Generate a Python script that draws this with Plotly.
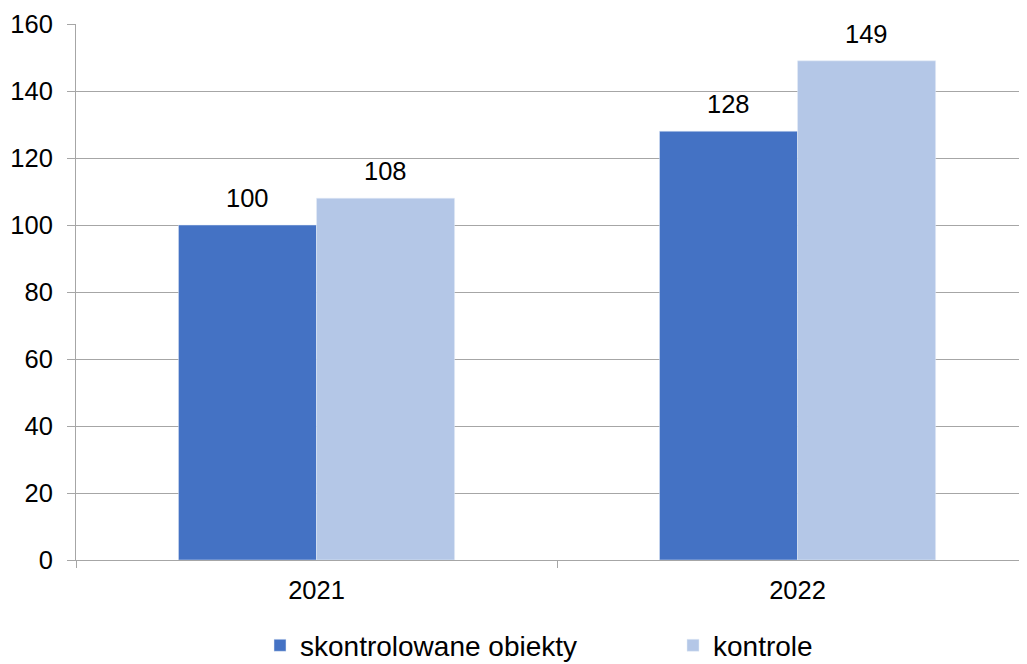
import plotly.graph_objects as go

years = ["2021", "2022"]
obiekty = [100, 128]
kontrole = [108, 149]
series_names = ["skontrolowane obiekty", "kontrole"]
y_ticks = [0, 20, 40, 60, 80, 100, 120, 140, 160]

BLUE = "#4472C4"
LIGHT = "#B4C7E7"
GRID = "#A6A6A6"
FONT = "Liberation Sans, Arial, sans-serif"
TICK_SIZE = 25.5
LEG_SIZE = 28

fig = go.Figure()
fig.add_trace(go.Bar(x=years, y=obiekty, name=series_names[0], marker_color=BLUE,
                     legend="legend", showlegend=True))
fig.add_trace(go.Bar(x=years, y=kontrole, name=series_names[1], marker_color=LIGHT,
                     legend="legend2", showlegend=True))

bargap = 0.426
half = (1 - bargap) / 4
annotations = []
for i, (a, b) in enumerate(zip(obiekty, kontrole)):
    for off, v in ((-half, a), (half, b)):
        annotations.append(dict(x=i + off, y=v, xref="x", yref="y", text=str(v),
                                showarrow=False, yanchor="bottom", yshift=11,
                                font=dict(size=TICK_SIZE, color="black", family=FONT)))

leg_common = dict(orientation="h", yanchor="top", y=-0.113, itemclick=False,
                  visible=True, bgcolor="rgba(0,0,0,0)",
                  font=dict(size=LEG_SIZE, family=FONT, color="black"))

fig.update_layout(
    width=1019, height=656,
    margin=dict(l=68, r=0, t=16, b=104, autoexpand=False),
    paper_bgcolor="white", plot_bgcolor="white",
    showlegend=True,
    barmode="group", bargap=bargap, bargroupgap=0,
    font=dict(family=FONT, size=TICK_SIZE, color="black"),
    annotations=annotations,
    legend=dict(x=(260 - 76) / 951, xanchor="left", **leg_common),
    legend2=dict(x=(673 - 76) / 951, xanchor="left", **leg_common),
    xaxis=dict(type="category", range=[-0.5, 1.477], tickson="boundaries",
               ticks="outside", ticklen=7, tickcolor=GRID, tickwidth=1,
               showline=True, linecolor=GRID, linewidth=1, showgrid=False,
               tickfont=dict(size=TICK_SIZE), ticklabelstandoff=7),
    yaxis=dict(range=[0, 160], tickvals=y_ticks, ticks="outside", ticklen=8,
               tickcolor=GRID, showline=True, linecolor=GRID, linewidth=1,
               showgrid=True, gridcolor=GRID, gridwidth=1, zeroline=False,
               tickfont=dict(size=TICK_SIZE), ticklabelstandoff=9),
)

fig.write_html("out.html")
